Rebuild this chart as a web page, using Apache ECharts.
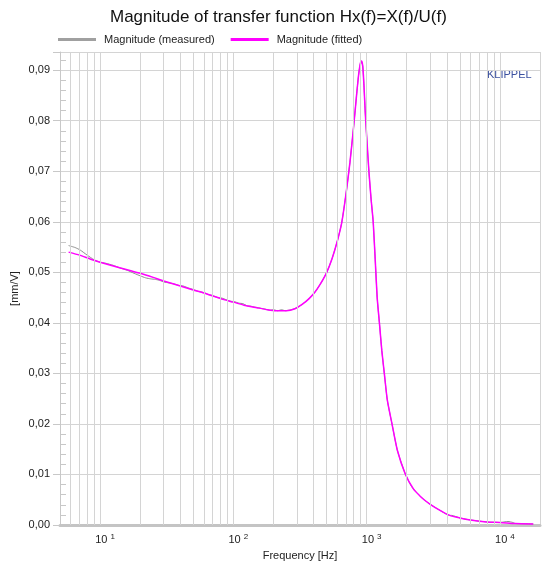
<!DOCTYPE html>
<html>
<head>
<meta charset="utf-8">
<script src="https://cdn.jsdelivr.net/npm/echarts@6/dist/echarts.min.js"></script>
<style>
  html, body { margin: 0; padding: 0; background: #fff; }
  #chart { width: 542px; height: 562px; }
</style>
</head>
<body>
<div id="chart"></div>
<script>
// fitted curve
const fittedFreq = [5.8, 7, 8.5, 10, 12, 14, 17, 20, 25, 30, 40, 50, 60, 70, 85, 100, 120, 150, 180, 210, 250, 290, 330, 370, 410, 450, 500, 550, 600, 650, 700, 750, 800, 840, 870, 895, 915, 935, 955, 975, 1000, 1040, 1080, 1120, 1160, 1200, 1250, 1300, 1360, 1430, 1550, 1700, 1950, 2250, 2500, 2700, 3000, 3500, 4200, 5000, 6000, 8000, 10000, 13000, 17800]
const fittedVal = [0.0540, 0.0534, 0.0526, 0.0520, 0.0514, 0.0509, 0.0503, 0.0498, 0.0490, 0.0483, 0.0473, 0.0465, 0.0459, 0.0453, 0.0446, 0.0441, 0.0435, 0.0430, 0.0426, 0.0424, 0.0424, 0.0428, 0.0437, 0.0448, 0.0461, 0.0477, 0.0499, 0.0527, 0.0560, 0.0598, 0.0655, 0.0718, 0.0790, 0.0850, 0.0890, 0.0912, 0.0918, 0.0908, 0.0870, 0.0820, 0.0770, 0.0700, 0.0645, 0.0600, 0.0525, 0.0450, 0.0397, 0.0345, 0.0298, 0.0247, 0.0200, 0.0148, 0.0101, 0.0071, 0.0058, 0.0050, 0.0041, 0.0030, 0.0019, 0.0014, 0.0010, 0.0006, 0.0005, 0.0003, 0.0002]

// measured curve
const measuredFreq = [5.8, 6.5, 7.1, 8, 9, 10, 11, 12.5, 14, 16, 18, 20, 22, 24, 26, 28, 30, 33, 36, 39, 42, 46, 50, 55, 60, 65, 70, 76, 82, 88, 95, 102, 110, 118, 126, 135, 145, 155, 165, 175, 188, 200, 215, 230, 245, 260, 280, 300, 330, 370, 410, 450, 500, 550, 600, 650, 700, 750, 800, 840, 870, 895, 915, 935, 955, 975, 1000, 1040, 1080, 1120, 1160, 1200, 1250, 1300, 1360, 1430, 1550, 1700, 1950, 2150, 2250, 2500, 2700, 3000, 3500, 4200, 4350, 5000, 6000, 8000, 10000, 11500, 12500, 13000, 17800]
const measuredVal = [0.0553, 0.0549, 0.0544, 0.0534, 0.0525, 0.0520, 0.0518, 0.0514, 0.0509, 0.0504, 0.0498, 0.0493, 0.0489, 0.0487, 0.0486, 0.0484, 0.0481, 0.0479, 0.0477, 0.0474, 0.0473, 0.0469, 0.0466, 0.0462, 0.0460, 0.0456, 0.0454, 0.0450, 0.0449, 0.0446, 0.0443, 0.0442, 0.0439, 0.0438, 0.0434, 0.0433, 0.0431, 0.0430, 0.0428, 0.0427, 0.0425, 0.0426, 0.0424, 0.0426, 0.0424, 0.0425, 0.0427, 0.0430, 0.0437, 0.0448, 0.0461, 0.0477, 0.0499, 0.0527, 0.0560, 0.0598, 0.0655, 0.0718, 0.0790, 0.0850, 0.0890, 0.0912, 0.0918, 0.0908, 0.0870, 0.0820, 0.0770, 0.0700, 0.0645, 0.0600, 0.0525, 0.0450, 0.0397, 0.0345, 0.0298, 0.0247, 0.0200, 0.0148, 0.0101, 0.0078, 0.0071, 0.0058, 0.0050, 0.0041, 0.0030, 0.0019, 0.0019, 0.0014, 0.0010, 0.0006, 0.0005, 0.0007, 0.0005, 0.0003, 0.0002]

const seriesNames = ['Magnitude (measured)', 'Magnitude (fitted)']
const xMin = 5
const xMax = 20000

const font = 'Liberation Sans, Arial, sans-serif'
const gridColor = '#d4d4d4'

// 2..9 lines in every decade
const minorLines = []
for (let d = 1; d <= 10000; d *= 10) {
  for (let m = 1; m <= 9; m++) {
    const v = m * d
    if (v > xMin && v < xMax) minorLines.push({ xAxis: v })
  }
}

const chart = echarts.init(document.getElementById('chart'))

const option = {
  backgroundColor: '#fff',
  animation: false,
  textStyle: { fontFamily: font },
  title: {
    text: 'Magnitude of transfer function Hx(f)=X(f)/U(f)',
    left: 110,
    top: 9,
    padding: 0,
    textStyle: { fontSize: 17, fontWeight: 'normal', color: '#111', fontFamily: font }
  },
  legend: {
    data: seriesNames,
    left: 53,
    top: 29,
    icon: 'rect',
    itemWidth: 38,
    itemHeight: 3,
    itemGap: 16,
    textStyle: { fontSize: 11, color: '#222', fontFamily: font, padding: [0, 0, 0, 3] }
  },
  graphic: [{
    type: 'text',
    left: 487,
    top: 69,
    style: { text: 'KLIPPEL', fontSize: 11, fill: '#3c51a0', fontFamily: font }
  }],
  grid: {
    left: 60,
    right: 2,
    top: 52,
    bottom: 37,
    containLabel: false,
    outerBoundsMode: 'none'
  },
  xAxis: {
    type: 'log',
    logBase: 10,
    min: xMin,
    max: xMax,
    offset: 2,
    name: 'Frequency [Hz]',
    nameLocation: 'middle',
    nameGap: 22,
    nameTextStyle: { fontSize: 11, color: '#222', fontFamily: font },
    axisLine: { lineStyle: { color: '#c4c4c4', width: 3 } },
    axisTick: { show: false },
    axisLabel: {
      margin: 6,
      showMinLabel: false,
      showMaxLabel: false,
      padding: [0, 0, 0, 10],
      formatter: function (v) {
        const e = Math.round(Math.log10(v))
        return '{a|10 }{b|' + e + '}'
      },
      rich: {
        a: { fontSize: 11, color: '#222', lineHeight: 14, fontFamily: font },
        b: { fontSize: 8, color: '#222', lineHeight: 14, verticalAlign: 'top', fontFamily: font }
      }
    },
    splitLine: { show: true, lineStyle: { color: gridColor, width: 1 } }
  },
  yAxis: {
    type: 'value',
    min: 0,
    max: 0.0936,
    interval: 0.01,
    name: '[mm/V]',
    nameLocation: 'middle',
    nameGap: 40,
    nameMoveOverlap: false,
    nameTextStyle: { fontSize: 11, color: '#222', fontFamily: font },
    axisLine: { show: true, lineStyle: { color: '#c8c8c8', width: 1 } },
    axisTick: { show: true, length: 7, lineStyle: { color: '#c8c8c8' } },
    minorTick: { show: true, splitNumber: 5, length: -6, lineStyle: { color: '#c8c8c8' } },
    axisLabel: {
      margin: 10,
      fontSize: 11,
      color: '#222',
      showMaxLabel: false,
      formatter: function (v) { return v.toFixed(2).replace('.', ',') }
    },
    splitLine: { show: true, lineStyle: { color: gridColor, width: 1 } }
  },
  series: [
    {
      name: 'grid',
      type: 'line',
      data: [],
      silent: true,
      z: 1,
      markLine: {
        silent: true,
        symbol: 'none',
        label: { show: false },
        lineStyle: { color: gridColor, width: 1, type: 'solid' },
        emphasis: { disabled: true },
        data: minorLines
      }
    },
    {
      name: seriesNames[0],
      type: 'line',
      showSymbol: false,
      smooth: 0.2,
      z: 3,
      color: '#a0a0a0',
      lineStyle: { color: '#8c8c8c', width: 1 },
      data: measuredFreq.map((f, i) => [f, measuredVal[i]])
    },
    {
      name: seriesNames[1],
      type: 'line',
      showSymbol: false,
      smooth: 0.2,
      z: 4,
      color: '#ff00ff',
      lineStyle: { color: '#ff00ff', width: 1.5 },
      data: fittedFreq.map((f, i) => [f, fittedVal[i]])
    }
  ]
}

chart.setOption(option)
</script>
</body>
</html>
